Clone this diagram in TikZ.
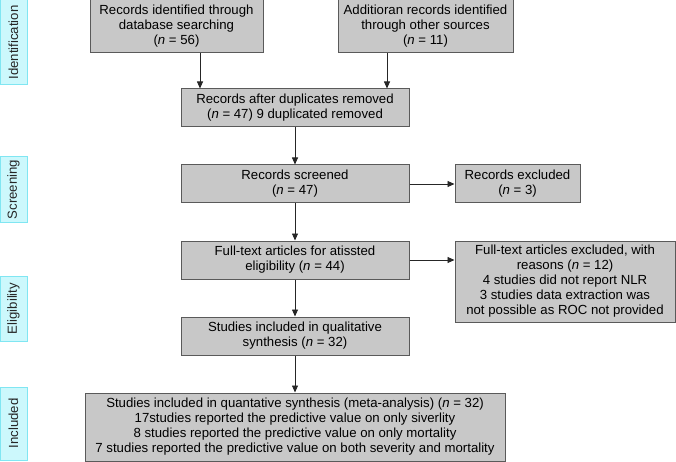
\documentclass[tikz,border=0pt]{standalone}
\usepackage{fontspec}
\setmainfont{Liberation Sans}
\usetikzlibrary{arrows.meta}
\definecolor{boxgray}{HTML}{C8C8C8}
\definecolor{boxedge}{HTML}{5A5A5A}
\definecolor{stagefill}{HTML}{CCF8FC}
\definecolor{stageedge}{HTML}{80E6F2}
\tikzset{
  flowbox/.style={draw=boxedge,fill=boxgray,line width=1pt,align=center,inner sep=0pt,font=\fontsize{13.2}{15}\selectfont},
  stage/.style={draw=stageedge,fill=stagefill,line width=1pt,rotate=90,inner sep=0pt,minimum height=27pt,text=black!85,font=\fontsize{13.2}{15}\selectfont},
  flow/.style={draw=black!85,line width=0.8pt,-{Triangle[length=7pt,width=6pt]}}
}

\begin{document}
\begin{tikzpicture}[x=1pt,y=-1pt]
\useasboundingbox (0,0) rectangle (676,462);
% stages on the left
\node[stage,minimum width=85pt] (ident) at (13.5,42.5) {Identification};
\node[stage,minimum width=65pt] (screen) at (13.5,189.5) {Screening};
\node[stage,minimum width=65pt] (elig) at (13.5,308.5) {Eligibility};
\node[stage,minimum width=73pt] (incl) at (13.5,423.5) {Included};
% boxes
\node[flowbox,minimum width=173pt,minimum height=53pt] (db) at (176.5,26.5)
  {Records identified through\\database searching\\(\textit{n} = 56)};
\node[flowbox,minimum width=175pt,minimum height=53pt] (other) at (425.5,26.5)
  {Additioran records identified\\through other sources\\(\textit{n} = 11)};
\node[flowbox,minimum width=228pt,minimum height=38pt] (dup) at (295,108)
  {Records after duplicates removed\\(\textit{n} = 47) 9 duplicated removed};
\node[flowbox,minimum width=228pt,minimum height=38pt] (screened) at (295,184)
  {Records screened\\(\textit{n} = 47)};
\node[flowbox,minimum width=125pt,minimum height=38pt] (excl) at (517.5,184)
  {Records excluded\\(\textit{n} = 3)};
\node[flowbox,minimum width=228pt,minimum height=38pt] (full) at (295,260)
  {Full-text articles for atissted\\eligibility (\textit{n} = 44)};
\node[flowbox,minimum width=220pt,minimum height=81pt] (fullex) at (565,281.5)
  {Full-text articles excluded, with\\reasons (\textit{n} = 12)\\4 studies did not report NLR\\3 studies data extraction was\\not possible as ROC not provided};
\node[flowbox,minimum width=228pt,minimum height=38pt] (qual) at (295,336)
  {Studies included in qualitative\\synthesis (\textit{n} = 32)};
\node[flowbox,minimum width=420pt,minimum height=68pt] (quant) at (295,427)
  {Studies included in quantative synthesis (meta-analysis) (\textit{n} = 32)\\17studies reported the predictive value on only siverlity\\8 studies reported the predictive value on only mortality\\7 studies reported the predictive value on both severity and mortality};
% arrows
\draw[flow] ([xshift=23.5pt]db.south) -- ([xshift=23.5pt]db.south |- dup.north);
\draw[flow] ([xshift=-38.5pt]other.south) -- ([xshift=-38.5pt]other.south |- dup.north);
\draw[flow] (dup) -- (screened);
\draw[flow] (screened) -- (excl);
\draw[flow] (screened) -- (full);
\draw[flow] (full.east) -- (fullex.west |- full.east);
\draw[flow] (full) -- (qual);
\draw[flow] (qual) -- (quant);
\end{tikzpicture}
\end{document}
